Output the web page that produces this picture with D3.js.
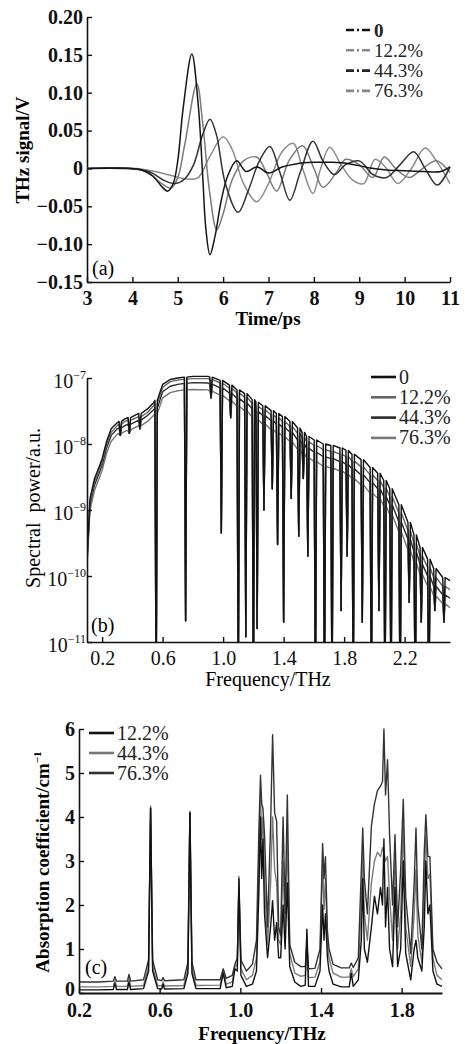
<!DOCTYPE html>
<html>
<head>
<meta charset="utf-8">
<script src="https://cdn.jsdelivr.net/npm/d3@7"></script>
<style>
body { margin: 0; background: #fff; }
svg { display: block; background: #fff; }
</style>
</head>
<body>
<svg width="465" height="1044"></svg>
<script>
const serif = '"Liberation Serif", "Times New Roman", "DejaVu Serif", serif';

// ---------- panel (a): time-domain THz signal ----------
const timeTicks = [3, 4, 5, 6, 7, 8, 9, 10, 11];
const ampTicks = [-0.15, -0.10, -0.05, 0, 0.05, 0.10, 0.15, 0.20];
const seriesA = ['0', '12.2%', '44.3%', '76.3%'];

const sig0 = [[3,0],[3.8,0],[4.2,-0.002],[4.45,-0.01],[4.65,-0.024],[4.78,-0.03],[4.9,-0.02],[5.0,0.01],[5.12,0.08],[5.31,0.151],
  [5.45,0.085],[5.55,-0.01],[5.62,-0.08],[5.71,-0.114],[5.82,-0.09],[5.95,-0.045],[6.1,-0.01],[6.3,0.01],[6.5,-0.004],[6.75,0.002],
  [7.0,-0.006],[7.3,0.002],[7.6,0.006],[8.0,0.008],[8.4,0.008],[8.8,0.006],[9.2,0.001],[9.6,-0.002],[10.0,-0.003],[10.4,-0.004],[10.8,-0.004],[11,0.002]];
const sig12 = [[3,0],[3.9,0],[4.3,-0.004],[4.6,-0.018],[4.85,-0.026],[5.0,-0.012],[5.15,0.03],[5.42,0.112],[5.55,0.06],[5.7,-0.03],
  [5.86,-0.081],[6.0,-0.06],[6.2,-0.015],[6.45,0.01],[6.74,0.015],[6.95,-0.005],[7.18,-0.03],[7.45,0.01],[7.75,0.03],[8.0,0.0],
  [8.2,-0.025],[8.5,-0.005],[8.7,0.012],[9.0,0.005],[9.3,-0.012],[9.55,0.015],[9.8,0.0],[10.1,-0.012],[10.4,0.0],[10.7,0.01],[11,-0.005]];
const sig44 = [[3,0],[4.0,0],[4.4,-0.005],[4.7,-0.016],[4.95,-0.02],[5.15,-0.014],[5.35,0.005],[5.55,0.045],[5.71,0.065],[5.85,0.045],
  [6.05,-0.02],[6.33,-0.058],[6.55,-0.03],[6.8,0.01],[7.03,0.029],[7.25,-0.005],[7.47,-0.042],[7.7,-0.005],[7.98,0.036],[8.2,0.01],
  [8.45,-0.008],[8.7,0.005],[9.0,0.01],[9.3,-0.008],[9.6,-0.012],[9.9,0.005],[10.2,0.022],[10.45,0.0],[10.72,-0.022],[11,0.002]];
const sig76 = [[3,0],[4.1,0],[4.5,-0.004],[4.9,-0.01],[5.2,-0.014],[5.45,-0.012],[5.7,0.015],[6.0,0.042],[6.2,0.025],[6.45,-0.02],
  [6.74,-0.044],[7.0,-0.02],[7.3,0.022],[7.55,0.033],[7.75,0.0],[7.98,-0.033],[8.15,0.0],[8.35,0.028],[8.6,0.005],[8.85,-0.015],
  [9.1,-0.02],[9.35,0.012],[9.6,0.0],[9.85,-0.02],[10.15,0.0],[10.45,0.027],[10.7,0.01],[11,-0.02]];

// ---------- panel (b): spectral power ----------
const freqTicksB = [0.2, 0.6, 1.0, 1.4, 1.8, 2.2];
const powerTicks = [1e-11, 1e-10, 1e-9, 1e-8, 1e-7];
const seriesB = ['0', '12.2%', '44.3%', '76.3%'];
const freqB = [0.10,0.12,0.15,0.18,0.20,0.23,0.26,0.30,0.32,0.35,0.38,0.40,0.45,0.50,0.54,0.557,0.60,0.65,0.70,0.752,
  0.80,0.90,0.92,0.988,1.05,1.10,1.15,1.20,1.225,1.27,1.325,1.36,1.40,1.45,1.50,1.53,1.56,1.61,1.67,1.72,
  1.78,1.82,1.86,1.92,1.98,2.03,2.07,2.11,2.17,2.23,2.27,2.31,2.36,2.40,2.46,2.50];
// absorption dips (minimum power), null where the curve has no dip
const dipB = [null,null,null,null,null,null,null,null,1.35e-8,null,1.45e-8,null,1.7e-8,null,null,1e-12,null,null,null,2.1e-11,
  null,null,5e-8,4.5e-10,2.5e-8,1e-12,1.2e-11,1e-12,1.6e-11,1e-9,2.1e-9,3e-10,2e-11,1.5e-9,4e-10,3e-9,2e-10,1e-12,1e-12,1e-12,
  3e-11,2e-10,1e-12,2e-11,1e-12,3e-11,1e-12,1e-12,1e-12,4e-11,1e-12,2e-11,1e-12,3e-11,2e-11,null];
const env0 = [2e-10,1.5e-9,3e-9,4.5e-9,6e-9,1.1e-8,1.7e-8,2.1e-8,2.2e-8,2.4e-8,2.5e-8,2.6e-8,2.9e-8,3.4e-8,4.2e-8,4.6e-8,8e-8,9.5e-8,1.0e-7,1.03e-7,
  1.06e-7,1.06e-7,1.03e-7,9.2e-8,7.8e-8,6.6e-8,5.8e-8,4.7e-8,4.3e-8,3.8e-8,3.2e-8,2.9e-8,2.6e-8,2.2e-8,1.75e-8,1.5e-8,1.3e-8,1.15e-8,1.0e-8,9.5e-9,
  8.7e-9,8e-9,7e-9,5.8e-9,4.4e-9,3.6e-9,2.8e-9,2.1e-9,1.2e-9,6.5e-10,4.2e-10,2.7e-10,1.8e-10,1.3e-10,9.5e-11,8.5e-11];
const env12 = [1.8e-10,1.3e-9,2.7e-9,4e-9,5.4e-9,1.0e-8,1.5e-8,1.9e-8,2.0e-8,2.2e-8,2.3e-8,2.35e-8,2.6e-8,3.0e-8,3.8e-8,4.1e-8,7.2e-8,8.8e-8,9.3e-8,9.6e-8,
  9.8e-8,9.8e-8,9.5e-8,8.4e-8,7.0e-8,5.9e-8,5.1e-8,4.1e-8,3.7e-8,3.3e-8,2.75e-8,2.5e-8,2.2e-8,1.85e-8,1.45e-8,1.25e-8,1.08e-8,9.5e-9,8.2e-9,7.7e-9,
  7e-9,6.4e-9,5.5e-9,4.5e-9,3.4e-9,2.8e-9,2.15e-9,1.6e-9,9e-10,4.9e-10,3.1e-10,2e-10,1.35e-10,9.5e-11,7e-11,6.2e-11];
const env44 = [1.6e-10,1.2e-9,2.4e-9,3.6e-9,4.8e-9,8.8e-9,1.35e-8,1.7e-8,1.75e-8,1.9e-8,2.0e-8,2.05e-8,2.3e-8,2.7e-8,3.3e-8,3.5e-8,6.2e-8,7.5e-8,8.0e-8,8.3e-8,
  8.5e-8,8.4e-8,8.1e-8,7.1e-8,5.9e-8,4.9e-8,4.2e-8,3.4e-8,3.1e-8,2.7e-8,2.25e-8,2.0e-8,1.8e-8,1.5e-8,1.15e-8,1.0e-8,8.6e-9,7.5e-9,6.4e-9,6e-9,
  5.4e-9,4.9e-9,4.2e-9,3.4e-9,2.6e-9,2.1e-9,1.6e-9,1.2e-9,6.6e-10,3.6e-10,2.3e-10,1.5e-10,1.0e-10,7e-11,5.2e-11,4.6e-11];
const env76 = [1.4e-10,1.0e-9,2.0e-9,3.0e-9,4.0e-9,7.3e-9,1.1e-8,1.4e-8,1.45e-8,1.55e-8,1.6e-8,1.7e-8,1.9e-8,2.2e-8,2.7e-8,2.9e-8,5.0e-8,6.0e-8,6.4e-8,6.6e-8,
  6.7e-8,6.6e-8,6.3e-8,5.5e-8,4.5e-8,3.7e-8,3.2e-8,2.55e-8,2.3e-8,2.0e-8,1.65e-8,1.5e-8,1.3e-8,1.08e-8,8.3e-9,7.2e-9,6.2e-9,5.4e-9,4.6e-9,4.3e-9,
  3.9e-9,3.5e-9,3.0e-9,2.4e-9,1.8e-9,1.5e-9,1.15e-9,8.5e-10,4.7e-10,2.5e-10,1.6e-10,1.05e-10,7e-11,5e-11,3.8e-11,3.3e-11];

// ---------- panel (c): absorption coefficient ----------
const freqTicksC = [0.2, 0.6, 1.0, 1.4, 1.8];
const absTicks = [0, 1, 2, 3, 4, 5, 6];
const seriesC = ['12.2%', '44.3%', '76.3%'];
const freqC = [0.20,0.30,0.37,0.378,0.386,0.44,0.448,0.456,0.52,0.545,0.555,0.565,0.59,0.61,0.617,0.624,0.72,0.74,0.75,0.76,
  0.78,0.90,0.915,0.93,0.96,0.973,0.985,0.993,1.003,1.03,1.06,1.08,1.092,1.10,1.106,1.112,1.12,1.135,1.15,1.16,
  1.17,1.18,1.19,1.20,1.212,1.222,1.233,1.245,1.27,1.30,1.322,1.33,1.338,1.37,1.395,1.408,1.415,1.422,1.432,1.44,
  1.46,1.50,1.54,1.55,1.56,1.585,1.60,1.607,1.615,1.63,1.65,1.665,1.68,1.695,1.705,1.712,1.72,1.73,1.74,1.755,
  1.767,1.78,1.795,1.808,1.82,1.845,1.862,1.871,1.88,1.90,1.912,1.92,1.93,1.94,1.955,1.975,2.0];
const abs12 = [0.07,0.07,0.08,0.22,0.08,0.08,0.25,0.08,0.1,0.5,4.2,0.5,0.1,0.09,0.2,0.09,0.1,0.45,4.1,0.45,
  0.1,0.1,0.45,0.12,0.15,0.55,0.5,2.6,0.4,0.15,0.2,0.5,2.3,4.0,2.6,3.5,1.8,0.8,1.5,2.1,
  1.2,1.6,0.8,0.8,2.0,1.0,2.5,0.6,0.25,0.15,0.18,1.45,0.15,0.15,0.5,2.0,1.2,1.8,0.8,0.5,
  0.2,0.14,0.14,0.45,0.15,0.3,1.2,2.6,1.0,0.7,1.5,2.2,1.8,2.4,2.0,3.5,1.5,2.4,1.0,0.6,
  2.4,0.6,1.0,3.0,0.9,0.3,1.0,1.2,0.8,0.5,1.5,3.0,1.8,2.0,0.5,0.2,0.15];
const abs44 = [0.14,0.14,0.15,0.28,0.15,0.15,0.32,0.15,0.17,0.6,4.25,0.6,0.17,0.16,0.25,0.16,0.17,0.55,4.13,0.55,
  0.17,0.18,0.5,0.2,0.25,0.6,0.65,2.65,0.55,0.3,0.4,0.8,3.0,4.5,3.5,4.0,2.5,1.1,2.5,4.0,
  2.8,2.5,1.2,1.1,3.0,1.3,3.5,0.9,0.45,0.38,0.4,1.3,0.35,0.36,0.7,3.0,1.9,2.6,1.1,0.8,
  0.45,0.36,0.36,0.55,0.37,0.55,2.0,3.3,1.8,1.2,2.5,3.0,3.2,3.1,3.3,3.2,3.0,3.1,2.2,1.2,
  3.0,1.0,1.8,3.8,1.5,0.6,1.8,2.8,1.3,0.7,2.5,3.6,2.6,2.7,0.8,0.4,0.3];
const abs76 = [0.25,0.25,0.27,0.37,0.27,0.27,0.42,0.27,0.3,0.75,4.2,0.75,0.3,0.28,0.35,0.28,0.3,0.7,4.1,0.7,
  0.3,0.3,0.55,0.33,0.4,0.65,0.8,2.4,0.75,0.5,0.65,1.2,3.7,4.95,4.3,4.2,3.6,1.5,3.8,5.87,
  4.1,3.9,1.5,1.3,4.0,1.8,4.5,1.1,0.7,0.6,0.6,1.1,0.55,0.56,1.0,3.4,2.6,3.1,1.4,1.0,
  0.65,0.57,0.57,0.68,0.58,0.8,2.8,3.75,2.6,1.8,3.8,4.3,4.6,4.7,4.8,6.0,4.5,5.3,3.6,2.0,
  3.6,1.5,2.8,4.4,2.2,0.9,2.5,3.75,2.0,1.0,3.2,4.05,3.1,3.1,1.0,0.7,0.55];

const svg = d3.select('svg');

const styleAxis = (g, size, weight) => {
  g.attr('font-family', serif).attr('font-size', size).attr('font-weight', weight);
  g.select('.domain').attr('stroke', '#111').attr('stroke-width', 1.6);
  g.selectAll('.tick line').attr('stroke', '#111').attr('stroke-width', 1.4);
  g.selectAll('.tick text').attr('fill', '#111');
};

const addLegend = (items, x, y0, step, size) => {
  const lg = svg.append('g').attr('font-family', serif).attr('font-size', size);
  items.forEach((d, i) => {
    const y = y0 + i * step;
    lg.append('line').attr('x1', x).attr('x2', x + 25).attr('y1', y).attr('y2', y)
      .attr('stroke', d.color).attr('stroke-width', 2.6)
      .attr('stroke-dasharray', d.dash || null);
    lg.append('text').attr('x', x + 28).attr('y', y + 6.5).attr('fill', '#222')
      .attr('font-weight', d.bold ? 'bold' : null).text(d.name);
  });
};

// ================= (a) =================
const xA = d3.scaleLinear().domain([3, 11]).range([87, 450]);
const yA = d3.scaleLinear().domain([-0.15, 0.2]).range([282, 17]);

svg.append('g').attr('transform', 'translate(0,282)')
  .call(d3.axisBottom(xA).tickValues(timeTicks).tickSizeInner(-5).tickSizeOuter(0).tickPadding(9).tickFormat(d3.format('d')))
  .call(g => styleAxis(g, 20, 'bold'));
svg.append('g').attr('transform', 'translate(87,0)')
  .call(d3.axisLeft(yA).tickValues(ampTicks).tickSizeInner(-5).tickSizeOuter(0).tickPadding(4)
    .tickFormat(d => d === 0 ? '0' : d3.format('.2f')(d)))
  .call(g => styleAxis(g, 20, 'bold'));

const lineA = d3.line().x(d => xA(d[0])).y(d => yA(d[1])).curve(d3.curveCatmullRom.alpha(0.5));
const curvesA = [
  { name: seriesA[3], data: sig76, color: '#8a8a8a' },
  { name: seriesA[1], data: sig12, color: '#7a7a7a' },
  { name: seriesA[2], data: sig44, color: '#333' },
  { name: seriesA[0], data: sig0, color: '#151515' }
];
svg.append('g').selectAll('path').data(curvesA).join('path')
  .attr('d', d => lineA(d.data)).attr('fill', 'none')
  .attr('stroke', d => d.color).attr('stroke-width', 1.5);

addLegend([
  { name: seriesA[0], color: '#111', dash: '8,3,2,3,8', bold: true },
  { name: seriesA[1], color: '#888', dash: '8,3,2,3,8' },
  { name: seriesA[2], color: '#222', dash: '8,3,2,3,8' },
  { name: seriesA[3], color: '#888', dash: '8,3,2,3,8' }
], 346, 30, 20.3, 19);

svg.append('text').attr('x', 92).attr('y', 275).attr('font-family', serif).attr('font-size', 20).text('(a)');
svg.append('text').attr('x', 268).attr('y', 325).attr('text-anchor', 'middle')
  .attr('font-family', serif).attr('font-size', 19).attr('font-weight', 'bold').text('Time/ps');
svg.append('text').attr('transform', 'translate(29,150) rotate(-90)').attr('text-anchor', 'middle')
  .attr('font-family', serif).attr('font-size', 19).attr('font-weight', 'bold').text('THz signal/V');

// ================= (b) =================
const xB = d3.scaleLinear().domain([0.1, 2.5]).range([87, 450]);
const yB = d3.scaleLog().domain([1e-11, 1e-7]).range([642, 378]);

svg.append('defs').append('clipPath').attr('id', 'clipB')
  .append('rect').attr('x', 87).attr('y', 360).attr('width', 366).attr('height', 282);

const spectrumPoints = env => {
  const pts = [];
  freqB.forEach((f, i) => {
    if (dipB[i] === null) pts.push([f, env[i]]);
    else pts.push([f - 0.008, env[i]], [f, dipB[i]], [f + 0.008, env[i]]);
  });
  return pts;
};
const lineB = d3.line().x(d => xB(d[0])).y(d => yB(d[1]));
const curvesB = [
  { name: seriesB[3], env: env76, color: '#777' },
  { name: seriesB[2], env: env44, color: '#2a2a2a' },
  { name: seriesB[1], env: env12, color: '#666' },
  { name: seriesB[0], env: env0, color: '#111' }
];
svg.append('g').attr('clip-path', 'url(#clipB)')
  .selectAll('path').data(curvesB).join('path')
  .attr('d', d => lineB(spectrumPoints(d.env))).attr('fill', 'none')
  .attr('stroke', d => d.color).attr('stroke-width', 1.4).attr('stroke-linejoin', 'round');

svg.append('g').attr('transform', 'translate(0,642)')
  .call(d3.axisBottom(xB).tickValues(freqTicksB).tickSizeInner(-5).tickSizeOuter(0).tickPadding(9).tickFormat(d3.format('.1f')))
  .call(g => styleAxis(g, 20, 'normal'));
svg.append('g').attr('transform', 'translate(87,0)')
  .call(d3.axisLeft(yB).tickValues(powerTicks).tickSizeInner(-5).tickSizeOuter(0).tickPadding(0).tickFormat(() => ''))
  .call(g => styleAxis(g, 20, 'normal'))
  .call(g => g.selectAll('.tick text').each(function (d) {
    const t = d3.select(this).attr('x', -1).attr('dy', '0.45em');
    t.append('tspan').text('10');
    t.append('tspan').attr('font-size', 12).attr('dy', -9).text('−' + Math.round(-Math.log10(d)));
  }));

addLegend([
  { name: seriesB[0], color: '#111' },
  { name: seriesB[1], color: '#666' },
  { name: seriesB[2], color: '#2a2a2a' },
  { name: seriesB[3], color: '#777' }
], 371, 377, 20.3, 20);

svg.append('text').attr('x', 91).attr('y', 632).attr('font-family', serif).attr('font-size', 20).text('(b)');
svg.append('text').attr('x', 268).attr('y', 686).attr('text-anchor', 'middle')
  .attr('font-family', serif).attr('font-size', 20).text('Frequency/THz');
svg.append('text').attr('transform', 'translate(40,508) rotate(-90)').attr('text-anchor', 'middle')
  .attr('font-family', serif).attr('font-size', 20).attr('xml:space', 'preserve').text('Spectral  power/a.u.');

// ================= (c) =================
const xC = d3.scaleLinear().domain([0.2, 2.0]).range([79, 442]);
const yC = d3.scaleLinear().domain([0, 6]).range([993, 729]);

const lineC = d3.line().x((d, i) => xC(freqC[i])).y(d => yC(d));
const curvesC = [
  { name: seriesC[1], data: abs44, color: '#7a7a7a' },
  { name: seriesC[2], data: abs76, color: '#333' },
  { name: seriesC[0], data: abs12, color: '#111' }
];
svg.append('g').selectAll('path').data(curvesC).join('path')
  .attr('d', d => lineC(d.data)).attr('fill', 'none')
  .attr('stroke', d => d.color).attr('stroke-width', 1.4).attr('stroke-linejoin', 'round');

svg.append('g').attr('transform', 'translate(0,993)')
  .call(d3.axisBottom(xC).tickValues(freqTicksC).tickSizeInner(-5).tickSizeOuter(0).tickPadding(10).tickFormat(d3.format('.1f')))
  .call(g => styleAxis(g, 20, 'bold'))
  .call(g => g.select('.domain').attr('stroke-width', 2.2));
svg.append('g').attr('transform', 'translate(79,0)')
  .call(d3.axisLeft(yC).tickValues(absTicks).tickSizeInner(-5).tickSizeOuter(0).tickPadding(4).tickFormat(d3.format('d')))
  .call(g => styleAxis(g, 20, 'bold'))
  .call(g => g.selectAll('.tick text').filter(d => d === 0).attr('dy', '0.1em'));

addLegend([
  { name: seriesC[0], color: '#111' },
  { name: seriesC[1], color: '#777' },
  { name: seriesC[2], color: '#333' }
], 89, 733, 20, 20);

svg.append('text').attr('x', 85).attr('y', 974).attr('font-family', serif).attr('font-size', 20).text('(c)');
svg.append('text').attr('x', 262).attr('y', 1040).attr('text-anchor', 'middle')
  .attr('font-family', serif).attr('font-size', 19).attr('font-weight', 'bold').text('Frequency/THz');
const titleC = svg.append('text').attr('transform', 'translate(49,862) rotate(-90)').attr('text-anchor', 'middle')
  .attr('font-family', serif).attr('font-size', 19).attr('font-weight', 'bold');
titleC.append('tspan').text('Absorption coefficient/cm');
titleC.append('tspan').attr('font-size', 11).attr('dy', -8).text('−1');
</script>
</body>
</html>
